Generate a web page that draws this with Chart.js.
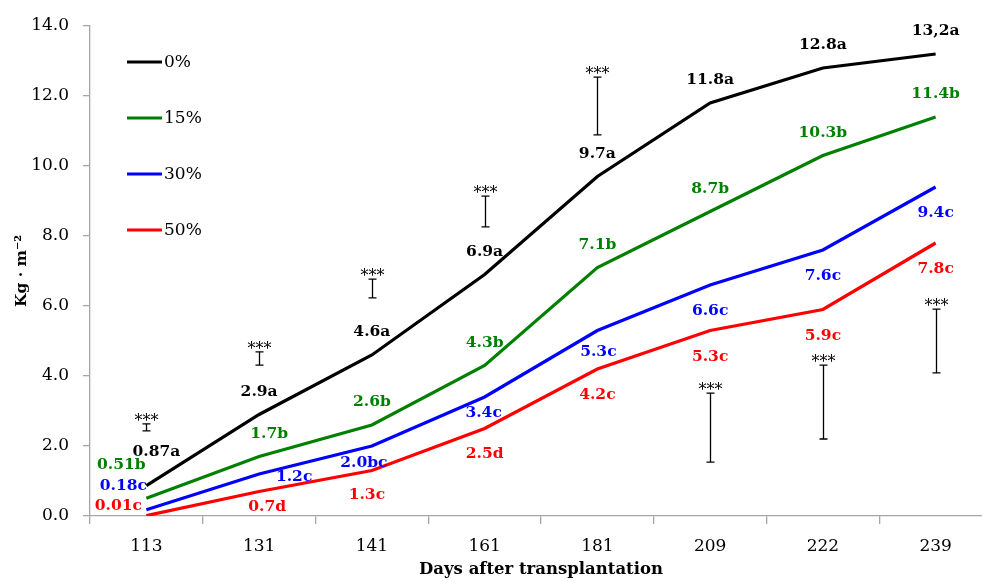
<!DOCTYPE html>
<html>
<head>
<meta charset="utf-8">
<script src="https://cdn.jsdelivr.net/npm/chart.js@4/dist/chart.umd.min.js"></script>
<style>
  html, body { margin: 0; padding: 0; overflow: hidden; background: #fff; }
  #wrap { width: 1000px; height: 581px; }
</style>
</head>
<body>
<div id="wrap"><canvas id="yieldChart"></canvas></div>
<script>
// data
const days = ['113', '131', '141', '161', '181', '209', '222', '239'];
const seriesNames = ['0%', '15%', '30%', '50%'];
const yield0 = [0.87, 2.9, 4.6, 6.9, 9.7, 11.8, 12.8, 13.2];
const yield15 = [0.51, 1.7, 2.6, 4.3, 7.1, 8.7, 10.3, 11.4];
const yield30 = [0.18, 1.2, 2.0, 3.4, 5.3, 6.6, 7.6, 9.4];
const yield50 = [0.01, 0.7, 1.3, 2.5, 4.2, 5.3, 5.9, 7.8];
const labels0 = ['0.87a', '2.9a', '4.6a', '6.9a', '9.7a', '11.8a', '12.8a', '13,2a'];
const labels15 = ['0.51b', '1.7b', '2.6b', '4.3b', '7.1b', '8.7b', '10.3b', '11.4b'];
const labels30 = ['0.18c', '1.2c', '2.0bc', '3.4c', '5.3c', '6.6c', '7.6c', '9.4c'];
const labels50 = ['0.01c', '0.7d', '1.3c', '2.5d', '4.2c', '5.3c', '5.9c', '7.8c'];
// significance range bars drawn at each date
const barLow = [2.43, 4.31, 6.23, 8.26, 10.89, 1.54, 2.2, 4.09];
const barHigh = [2.63, 4.69, 6.77, 9.14, 12.54, 3.51, 4.31, 5.91];
const barMark = ['***', '***', '***', '***', '***', '***', '***', '***'];
const yTicks = [0, 2, 4, 6, 8, 10, 12, 14];

const SERIF = '"DejaVu Serif", serif';
const colors = ['#000000', '#008000', '#0000ff', '#ff0000'];
const valueLabels = [labels0, labels15, labels30, labels50];

// label placement (dx, dy from the point), default per series plus exceptions
const labelDefault = [[0, -23], [0, -23], [0, 26], [0, 26]];
const labelNudge = {
  0: { 0: [10, -34] },
  1: { 0: [-25, -33], 1: [10, -23] },
  2: { 0: [-23, -24], 1: [35, 3], 2: [-8, 17], 3: [-1, 16], 4: [1, 21] },
  3: { 0: [-28, -10], 1: [8, 15], 2: [-5, 24], 3: [0, 25] },
};

const valueLabelPlugin = {
  id: 'valueLabels',
  afterDatasetsDraw(chart) {
    const ctx = chart.ctx;
    ctx.save();
    ctx.font = 'bold 15.5px ' + SERIF;
    ctx.textAlign = 'center';
    ctx.textBaseline = 'middle';
    chart.data.datasets.forEach((ds, i) => {
      const meta = chart.getDatasetMeta(i);
      ctx.fillStyle = colors[i];
      meta.data.forEach((pt, j) => {
        const off = (labelNudge[i] && labelNudge[i][j]) || labelDefault[i];
        ctx.fillText(valueLabels[i][j], pt.x + off[0], pt.y + off[1]);
      });
    });
    ctx.restore();
  }
};

const rangeBarPlugin = {
  id: 'rangeBars',
  afterDatasetsDraw(chart) {
    const { ctx, scales: { x, y } } = chart;
    ctx.save();
    ctx.strokeStyle = '#000';
    ctx.lineWidth = 1.3;
    ctx.fillStyle = '#000';
    ctx.font = '16px ' + SERIF;
    ctx.textAlign = 'center';
    ctx.textBaseline = 'alphabetic';
    days.forEach((d, j) => {
      const px = Math.round(x.getPixelForValue(j)) + 0.5;
      const top = y.getPixelForValue(barHigh[j]);
      const bot = y.getPixelForValue(barLow[j]);
      ctx.beginPath();
      ctx.moveTo(px, top); ctx.lineTo(px, bot);
      ctx.moveTo(px - 4, top); ctx.lineTo(px + 4, top);
      ctx.moveTo(px - 4, bot); ctx.lineTo(px + 4, bot);
      ctx.stroke();
      ctx.fillText(barMark[j], px, top + 2);
    });
    ctx.restore();
  }
};

const legendPlugin = {
  id: 'insideLegend',
  afterDraw(chart) {
    const { ctx, chartArea } = chart;
    ctx.save();
    ctx.font = '17px ' + SERIF;
    ctx.textBaseline = 'middle';
    ctx.lineWidth = 3;
    chart.data.datasets.forEach((ds, i) => {
      const yy = chartArea.top + 36 + i * 56;
      const x0 = chartArea.left + 37;
      ctx.strokeStyle = ds.borderColor;
      ctx.beginPath();
      ctx.moveTo(x0, yy); ctx.lineTo(x0 + 35, yy);
      ctx.stroke();
      ctx.fillStyle = '#000';
      ctx.fillText(ds.label, x0 + 37, yy + 1);
    });
    ctx.restore();
  }
};

const seriesValues = [yield0, yield15, yield30, yield50];
const datasets = seriesValues.map((vals, i) => ({
  label: seriesNames[i],
  data: vals,
  borderColor: colors[i],
  backgroundColor: colors[i],
  borderWidth: 3.2,
  pointRadius: 0,
  tension: 0,
  fill: false,
}));

new Chart(document.getElementById('yieldChart'), {
  type: 'line',
  data: { labels: days, datasets },
  plugins: [rangeBarPlugin, valueLabelPlugin, legendPlugin],
  options: {
    responsive: true,
    maintainAspectRatio: false,
    animation: false,
    layout: { padding: { top: 26, right: 8, left: 0, bottom: 0 } },
    plugins: {
      legend: { display: false },
      tooltip: { enabled: false },
    },
    scales: {
      x: {
        offset: true,
        afterFit: (s) => { s.height = 65; },
        grid: { display: true, drawOnChartArea: false, offset: true, tickLength: 8, color: '#a6a6a6', lineWidth: 1.3 },
        border: { color: '#a6a6a6', width: 1.3 },
        ticks: { color: '#000', padding: 12, font: { family: SERIF, size: 17 } },
        title: { display: true, text: 'Days after transplantation', color: '#000', padding: { top: 0, bottom: 1 }, font: { family: SERIF, size: 16.5, weight: 'bold' } },
      },
      y: {
        min: 0,
        max: 14,
        afterFit: (s) => { s.width = 90; },
        afterBuildTicks: (s) => { s.ticks = yTicks.map(v => ({ value: v })); },
        grid: { display: true, drawOnChartArea: false, tickLength: 7, color: '#a6a6a6', lineWidth: 1.3 },
        border: { color: '#a6a6a6', width: 1.3 },
        ticks: { color: '#000', padding: 14, font: { family: SERIF, size: 17 }, callback: (v) => Number(v).toFixed(1) },
        title: { display: true, text: 'Kg · m⁻²', color: '#000', padding: { top: 13, bottom: 0 }, font: { family: SERIF, size: 15.5, weight: 'bold' } },
      }
    }
  }
});
</script>
</body>
</html>
